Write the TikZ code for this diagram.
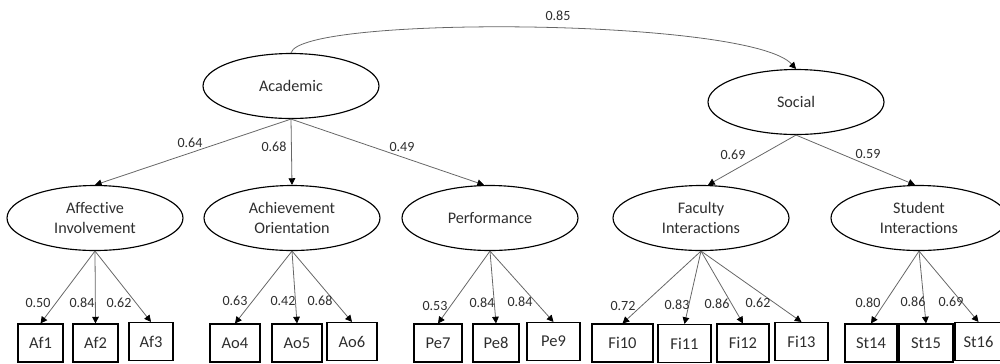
\documentclass[tikz,border=0pt]{standalone}
\usepackage{fontspec}
\setmainfont{Carlito}[Ligatures=CommonOff]
\usetikzlibrary{shapes.geometric,arrows.meta}
\definecolor{ink}{HTML}{2E2E2E}
\definecolor{wire}{HTML}{666666}
\tikzset{
  latent/.style={ellipse, draw=black, line width=0.65pt, minimum width=3.52cm,
    minimum height=1.3cm, inner sep=0pt, align=center, text=ink,
    font=\fontsize{9.2}{11.3}\selectfont},
  indicator/.style={rectangle, draw=black, line width=0.65pt, minimum height=0.76cm,
    inner sep=0pt, text=ink, font=\fontsize{9.4}{11}\selectfont},
  load/.style={wire, line width=0.45pt, -{Triangle[length=3.8pt,width=3.8pt,color=black]}},
  coef/.style={text=ink, inner sep=0pt, font=\fontsize{8}{9}\selectfont}
}
\begin{document}
\begin{tikzpicture}[x=0.02cm, y=-0.02cm]
\useasboundingbox (0,0) rectangle (1000,363);

% second-order factors
\node[latent] (aca) at (291,86) {Academic};
\node[latent] (soc) at (796,102) {Social};

% first-order factors
\node[latent] (aff) at (95,218)  {Affective\\Involvement};
\node[latent] (ach) at (292,218) {Achievement\\Orientation};
\node[latent] (per) at (490,218) {Performance};
\node[latent] (fac) at (701,218) {Faculty\\Interactions};
\node[latent] (stu) at (919,218) {Student\\Interactions};

% observed items
\node[indicator, minimum width=0.90cm] (af1) at (40.5,343) {Af1};
\node[indicator, minimum width=0.90cm] (af2) at (95.5,343) {Af2};
\node[indicator, minimum width=0.88cm] (af3) at (151,341.5) {Af3};
\node[indicator, minimum width=1.00cm] (ao4) at (235,343) {Ao4};
\node[indicator, minimum width=1.00cm] (ao5) at (297,343) {Ao5};
\node[indicator, minimum width=1.00cm] (ao6) at (352,341.5) {Ao6};
\node[indicator, minimum width=0.96cm] (pe7) at (438,343) {Pe7};
\node[indicator, minimum width=0.92cm] (pe8) at (496,343) {Pe8};
\node[indicator, minimum width=1.06cm] (pe9) at (553.5,341.5) {Pe9};
\node[indicator, minimum width=1.22cm] (fi10) at (622.5,343) {Fi10};
\node[indicator, minimum width=1.06cm] (fi11) at (684.5,343.5) {Fi11};
\node[indicator, minimum width=1.04cm] (fi12) at (743,343) {Fi12};
\node[indicator, minimum width=1.06cm] (fi13) at (801.5,341.5) {Fi13};
\node[indicator, minimum width=1.04cm] (st14) at (871,343) {St14};
\node[indicator, minimum width=1.08cm] (st15) at (926,343) {St15};
\node[indicator, minimum width=0.94cm] (st16) at (978.5,341.5) {St16};

% correlation between the second-order factors
\draw[load] (aca.north) .. controls (300,15) and (750,18) .. (soc.north);
\node[coef] (r) at (558,16) {0.85};

% second-order loadings
\draw[load] (aca.south) -- (aff.north);
\draw[load] (aca.south) -- (ach.north);
\draw[load] (aca.south) -- ([xshift=-0.12cm]per.north);
\draw[load] (soc.south) -- ([xshift=0.14cm]fac.north);
\draw[load] (soc.south) -- ([xshift=-0.08cm]stu.north);
\node[coef] (l1) at (190,143) {0.64};
\node[coef] (l2) at (274,147) {0.68};
\node[coef] (l3) at (402,147) {0.49};
\node[coef] (l4) at (733,155) {0.69};
\node[coef] (l5) at (868,154) {0.59};

% item loadings
\foreach \f/\i in {aff/af1, aff/af2, aff/af3, ach/ao4, ach/ao5, ach/ao6,
                   per/pe7, per/pe8, per/pe9, fac/fi10, fac/fi11, fac/fi12,
                   fac/fi13, stu/st14, stu/st15, stu/st16}
  \draw[load] (\f.south) -- (\i.north);

\node[coef] at (38,303)  {0.50};
\node[coef] at (82,303)  {0.84};
\node[coef] at (119,303) {0.62};
\node[coef] at (235,301) {0.63};
\node[coef] at (283,301) {0.42};
\node[coef] at (320,301) {0.68};
\node[coef] at (435,306) {0.53};
\node[coef] at (482,303) {0.84};
\node[coef] at (520,302) {0.84};
\node[coef] at (623,306) {0.72};
\node[coef] at (677,305) {0.83};
\node[coef] at (717,304) {0.86};
\node[coef] at (758,303) {0.62};
\node[coef] at (868,303) {0.80};
\node[coef] at (913,302) {0.86};
\node[coef] at (951,302) {0.69};
\end{tikzpicture}
\end{document}
